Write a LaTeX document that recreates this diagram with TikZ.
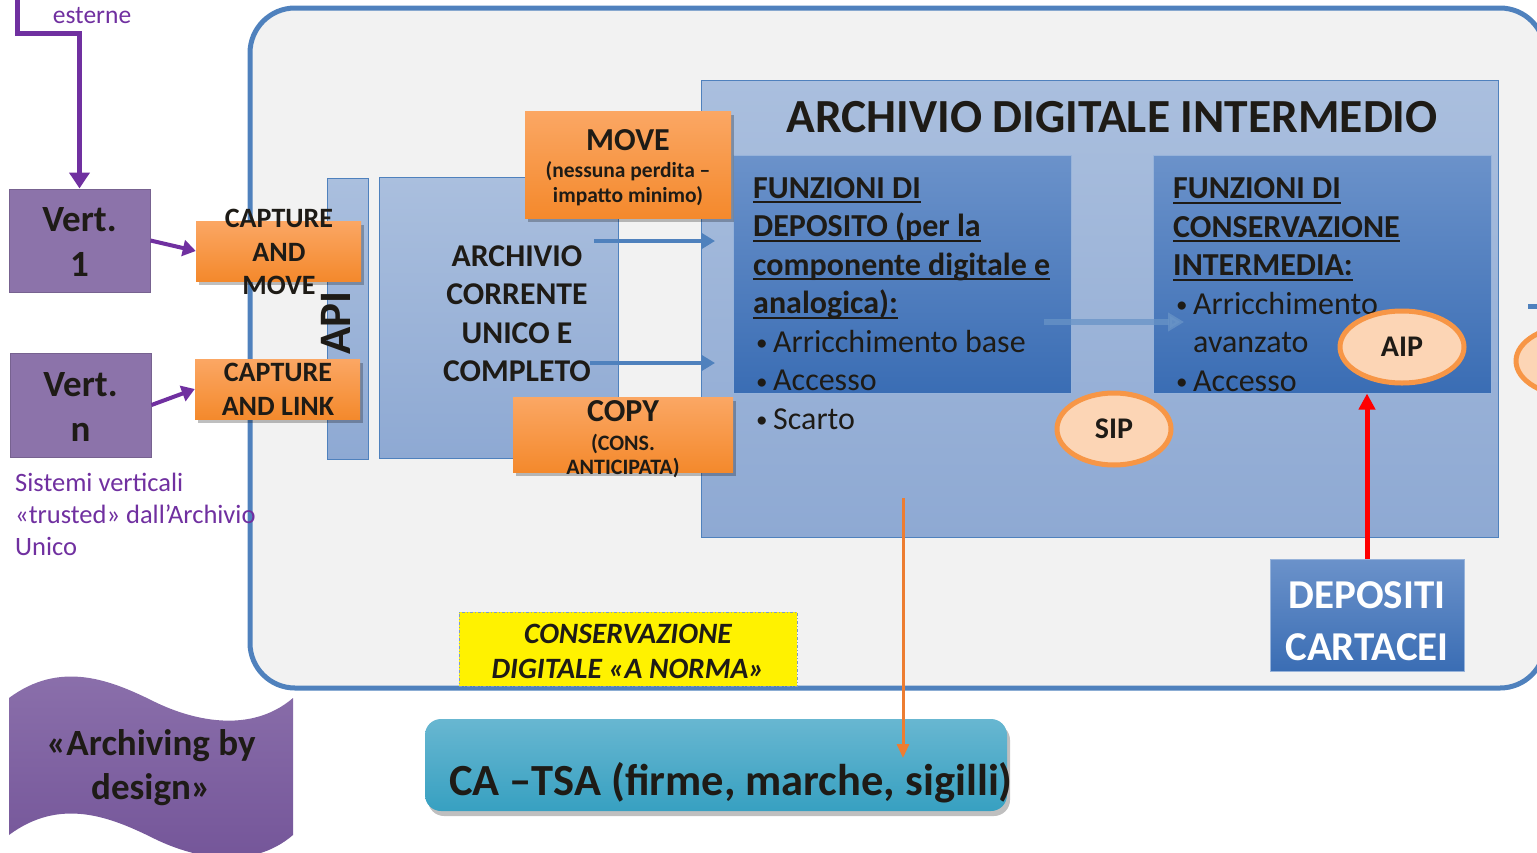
\documentclass[tikz,border=0pt]{standalone}
\usepackage{fontspec}
\setmainfont{Carlito}
\usetikzlibrary{arrows.meta,shapes.geometric,shadows,calc}
\definecolor{outerblue}{HTML}{4F81BD}
\definecolor{lightA}{HTML}{AABFDE}
\definecolor{lightB}{HTML}{8EA9D3}
\definecolor{darkA}{HTML}{6B92CA}
\definecolor{darkB}{HTML}{3A6DB4}
\definecolor{orA}{HTML}{FBA764}
\definecolor{orB}{HTML}{F4892C}
\definecolor{purp}{HTML}{7030A0}
\definecolor{vpurp}{HTML}{8C73AA}
\definecolor{txt}{HTML}{1E1B16}
\definecolor{ellfill}{HTML}{FCD5B5}
\definecolor{ellline}{HTML}{F79646}
\definecolor{bggray}{HTML}{F2F2F2}
\definecolor{tealA}{HTML}{68B7D1}
\definecolor{tealB}{HTML}{37A0C1}
\definecolor{oline}{HTML}{ED7D31}
\definecolor{wavA}{HTML}{8C71AC}
\definecolor{wavB}{HTML}{735498}
\definecolor{ydash}{HTML}{7F9CC7}
\newcommand\myfs[2]{\fontsize{#1}{#2}\selectfont}
\newcommand\myul[1]{\setbox0\hbox{#1}\rlap{\rule[-5pt]{\wd0}{2pt}}\box0}
\newcommand\mybul{\makebox[20pt][l]{\hspace{3pt}\raisebox{1.5pt}{\scalebox{0.72}{\textbullet}}}}
\newcommand\mynobul{\makebox[20pt][l]{}}
\begin{document}
\begin{tikzpicture}[x=1pt,y=-1pt,
 lbox/.style={rectangle, draw=outerblue, line width=1pt, top color=lightA, bottom color=lightB, inner sep=0},
 dbox/.style={rectangle, draw=darkA!70!white, line width=1pt, top color=darkA, bottom color=darkB, inner sep=0},
 obox/.style={rectangle, draw=none, top color=orA, bottom color=orB, inner sep=0,
   drop shadow={shadow xshift=3pt, shadow yshift=-4pt, opacity=0.25, fill=black}},
 vertbox/.style={rectangle, draw=vpurp!85!black, line width=1pt, fill=vpurp, inner sep=0},
 ell/.style={ellipse, draw=ellline, line width=5pt, fill=ellfill, inner sep=0, text=txt, font=\bfseries\myfs{30}{36}},
 tx/.style={text=txt, inner sep=0, align=center},
 parr/.style={draw=purp, line width=4pt, -{Triangle[length=13pt,width=16pt]}},
 barr/.style={draw=outerblue, line width=4pt, -{Triangle[length=14pt,width=16pt]}},
]
\useasboundingbox (0,0) rectangle (1537,852);
\clip (0,0) rectangle (1537,852);

% outer container
\node[draw=outerblue, line width=5pt, fill=bggray, rounded corners=45pt, minimum width=1295pt, minimum height=680pt, inner sep=0] (outer) at (897.5,348) {};

% external connector
\coordinate (ext) at (17,0);
\coordinate (bend) at (79.5,33);
\node[text=purp, inner sep=0, font=\myfs{25.5}{30}] (esterne) at (92,16) {esterne};

% intermediate archive
\node[lbox, minimum width=797pt, minimum height=457pt] (inter) at (1099.5,308.5) {};
\node[tx, font=\bfseries\myfs{47.5}{54}] (intertitle) at (1112,117) {ARCHIVIO DIGITALE INTERMEDIO};
\node[dbox, minimum width=338pt, minimum height=238pt] (dep) at (902,274) {};
\node[dbox, minimum width=338pt, minimum height=238pt] (cons) at (1322,274) {};

\node[tx, align=left, anchor=west, font=\myfs{32}{38.5}] (deptext) at (753,303.5)
 {\bfseries\myul{FUNZIONI DI}\\\bfseries\myul{DEPOSITO (per la}\\\bfseries\myul{componente digitale e}\\\bfseries\myul{analogica):}\\
  \mybul Arricchimento base\\\mybul Accesso\\\mybul Scarto};
\node[tx, align=left, anchor=west, font=\myfs{32}{38.5}] (constext) at (1173,284.5)
 {\bfseries\myul{FUNZIONI DI}\\\bfseries\myul{CONSERVAZIONE}\\\bfseries\myul{INTERMEDIA:}\\
  \mybul Arricchimento\\\mynobul avanzato\\\mybul Accesso};

% API and current archive
\node[lbox, minimum width=41pt, minimum height=281pt] (api) at (347.5,318.5) {};
\node[tx, rotate=90, font=\bfseries\myfs{45}{50}] (apitext) at (336,323) {API};
\node[lbox, minimum width=239pt, minimum height=281pt] (corr) at (498.5,317.5) {};
\node[tx, font=\bfseries\myfs{31.7}{38.5}] (corrtext) at (517,313.5) {ARCHIVIO\\CORRENTE\\UNICO E\\COMPLETO};

% vertical systems
\node[vertbox, minimum width=141pt, minimum height=103pt] (v1) at (79.5,240.5) {};
\node[tx, font=\bfseries\myfs{37}{45}] (v1text) at (79.5,241.5) {Vert.\\1};
\node[vertbox, minimum width=141pt, minimum height=104pt] (vn) at (80.5,405) {};
\node[tx, font=\bfseries\myfs{37}{45}] (vntext) at (80.5,407) {Vert.\\n};
\node[text=purp, inner sep=0, align=left, anchor=west, font=\myfs{26.5}{32}] (sistemi) at (15,514)
 {Sistemi verticali\\«trusted» dall’Archivio\\Unico};

% orange boxes
\node[obox, minimum width=165pt, minimum height=60pt] (cam) at (278.5,251) {};
\node[tx, font=\bfseries\myfs{28}{33.5}] (camtext) at (279,252) {CAPTURE\\AND\\MOVE};
\node[obox, minimum width=165pt, minimum height=60pt] (cal) at (277.5,389) {};
\node[tx, font=\bfseries\myfs{28}{33.5}] (caltext) at (278,389.5) {CAPTURE\\AND LINK};
\node[obox, minimum width=206pt, minimum height=107pt] (move) at (628,164.5) {};
\node[tx, font=\bfseries\myfs{32}{32}] (movetext) at (628,140) {MOVE};
\node[tx, font=\bfseries\myfs{21.5}{25}] (movesub) at (628,184) {(nessuna perdita –\\impatto minimo)};
\node[obox, minimum width=220pt, minimum height=75pt] (copy) at (623,434.5) {};
\node[tx, font=\bfseries\myfs{32}{32}] (copytext) at (623,411) {COPY};
\node[tx, font=\bfseries\myfs{22}{24}] (copysub) at (623,455.5) {(CONS.\\ANTICIPATA)};

% ellipses
\node[ell, minimum width=114pt, minimum height=72pt] (sip) at (1114,429) {SIP};
\node[ell, minimum width=124pt, minimum height=72pt] (aip) at (1402,347) {AIP};
\node[ell, minimum width=124pt, minimum height=72pt] (hidden) at (1578,361) {};

% paper deposits
\node[rectangle, draw=darkA!70!white, line width=1pt, top color=darkA, bottom color=darkB, inner sep=0, minimum width=194pt, minimum height=112pt] (depc) at (1367,615) {};
\node[text=white, inner sep=0, align=center, font=\bfseries\myfs{41}{52}] (depctext) at (1367,621) {DEPOSITI\\CARTACEI};

% yellow note
\node[rectangle, fill=yellow, draw=ydash, line width=1pt, dash dot, minimum width=338pt, minimum height=74pt, inner sep=0] (norma) at (628,649) {};
\node[tx, font=\bfseries\itshape\myfs{29.5}{35}] (normatext) at (628,651) {CONSERVAZIONE\\DIGITALE «A NORMA»};

% CA-TSA
\node[rectangle, rounded corners=16pt, top color=tealA, bottom color=tealB, draw=none, inner sep=0,
  minimum width=582pt, minimum height=92pt,
  drop shadow={shadow xshift=3pt, shadow yshift=-5pt, opacity=0.25, fill=black}] (catsa) at (716,765) {};
\node[tx, font=\bfseries\myfs{44.5}{50}] (catsatext) at (731,783) {CA –TSA (firme, marche, sigilli)};

% archiving by design wave
\path[top color=wavA, bottom color=wavB] (9,698) .. controls (60,660) and (110,680) .. (151,700)
  .. controls (190,720) and (250,735) .. (293,698) -- (293,835)
  .. controls (250,872) and (190,857) .. (151,837)
  .. controls (110,817) and (60,797) .. (9,835) -- cycle;
\node[tx, font=\bfseries\myfs{37}{44}] (abd) at (151,768) {«Archiving by\\design»};

% connectors
\draw[draw=purp, line width=5pt, -{Triangle[length=16pt,width=20pt]}] (ext) |- (bend) -- (v1.north);
\draw[parr] (v1.east) -- (cam.west);
\draw[parr] (vn.east) -- (cal.west);

\coordinate (a1s) at (594,241);
\coordinate (a1e) at (715,241);
\coordinate (a2s) at (590,363);
\coordinate (a2e) at (715,363);
\draw[barr] (a1s) -- (a1e);
\draw[barr] (a2s) -- (a2e);

\coordinate (dcs) at (1044,322);
\coordinate (dce) at (1184,322);
\draw[draw=outerblue!85!white, opacity=0.75, line width=6pt, -{Triangle[length=16pt,width=18pt]}] (dcs) -- (dce);

\draw[draw=red, line width=5pt, -{Triangle[length=16pt,width=16pt]}] (depc.north) -- (depc.north |- cons.south);

\coordinate (os) at (903,498);
\coordinate (oe) at (903,758);
\draw[draw=oline, line width=3pt, -{Triangle[length=14pt,width=12pt]}] (os) -- (oe);

\coordinate (hidA) at (1528,306);
\coordinate (hidB) at (1560,306);
\draw[draw=outerblue, line width=5pt] (hidA) -- (hidB);
\end{tikzpicture}
\end{document}
